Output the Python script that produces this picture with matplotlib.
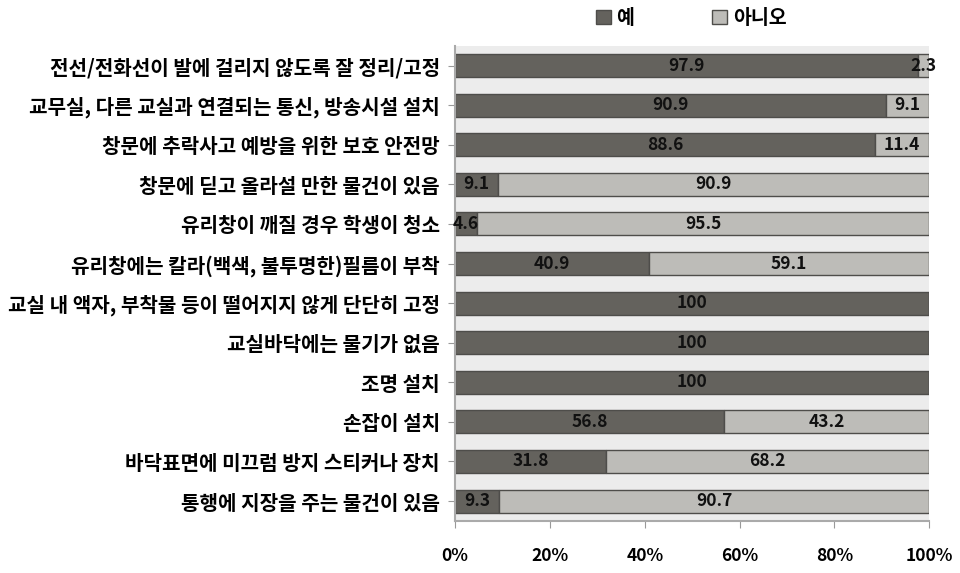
import numpy as np
import matplotlib
matplotlib.use("Agg")
from matplotlib import pyplot as plt

plt.rcParams['font.family'] = ['Noto Sans CJK KR', 'DejaVu Sans']

categories = [
    "전선/전화선이 발에 걸리지 않도록 잘 정리/고정",
    "교무실, 다른 교실과 연결되는 통신, 방송시설 설치",
    "창문에 추락사고 예방을 위한 보호 안전망",
    "창문에 딛고 올라설 만한 물건이 있음",
    "유리창이 깨질 경우 학생이 청소",
    "유리창에는 칼라(백색, 불투명한)필름이 부착",
    "교실 내 액자, 부착물 등이 떨어지지 않게 단단히 고정",
    "교실바닥에는 물기가 없음",
    "조명 설치",
    "손잡이 설치",
    "바닥표면에 미끄럼 방지 스티커나 장치",
    "통행에 지장을 주는 물건이 있음",
]
yes = [97.9, 90.9, 88.6, 9.1, 4.6, 40.9, 100, 100, 100, 56.8, 31.8, 9.3]
no = [2.3, 9.1, 11.4, 90.9, 95.5, 59.1, 0, 0, 0, 43.2, 68.2, 90.7]

yes = np.array(yes, dtype=float)
no = np.array(no, dtype=float)
total = yes + no
yes_w = yes / total * 100
no_w = no / total * 100

c_yes = "#64625d"
c_no = "#bdbcb8"
edge = "#4e4d4a"

fig = plt.figure(figsize=(9.6, 5.73), dpi=100)
ax = fig.add_axes([0.474, 0.091, 0.494, 0.829])
ax.set_facecolor("#ececec")

y = np.arange(len(categories))
h = 0.58
ax.barh(y, yes_w, height=h, color=c_yes, edgecolor=edge, linewidth=1, label="예")
ax.barh(y, no_w, left=yes_w, height=h, color=c_no, edgecolor=edge, linewidth=1, label="아니오")

def fmt(v):
    return "%g" % v

for i in range(len(categories)):
    ax.text(yes_w[i] / 2, y[i], fmt(yes[i]), ha="center", va="center",
            fontsize=12.5, fontweight="bold", color="#111111")
    if no[i] > 0:
        ax.text(yes_w[i] + no_w[i] / 2, y[i], fmt(no[i]), ha="center", va="center",
                fontsize=12.5, fontweight="bold", color="#111111")

ax.set_xlim(0, 100)
ax.set_ylim(len(categories) - 0.5, -0.5)
ax.set_yticks(y)
ax.set_yticklabels(categories, fontsize=14.5, fontweight="bold")
ax.set_xticks([0, 20, 40, 60, 80, 100])
ax.set_xticklabels(["0%", "20%", "40%", "60%", "80%", "100%"], fontsize=12.5, fontweight="bold")
ax.tick_params(axis="y", length=5, color="#999999", pad=6)
ax.tick_params(axis="x", length=5, color="#999999", pad=14)
for s in ["top", "right"]:
    ax.spines[s].set_visible(False)
for s in ["left", "bottom"]:
    ax.spines[s].set_color("#aaaaaa")
    ax.spines[s].set_linewidth(1.5)

leg = fig.legend(loc="upper center", bbox_to_anchor=(0.72, 1.015), ncol=2, frameon=False,
                 handlelength=0.75, handleheight=0.75, handletextpad=0.3,
                 columnspacing=4.0, prop={"weight": "bold", "size": 14})

fig.savefig("out.png", dpi=100)
